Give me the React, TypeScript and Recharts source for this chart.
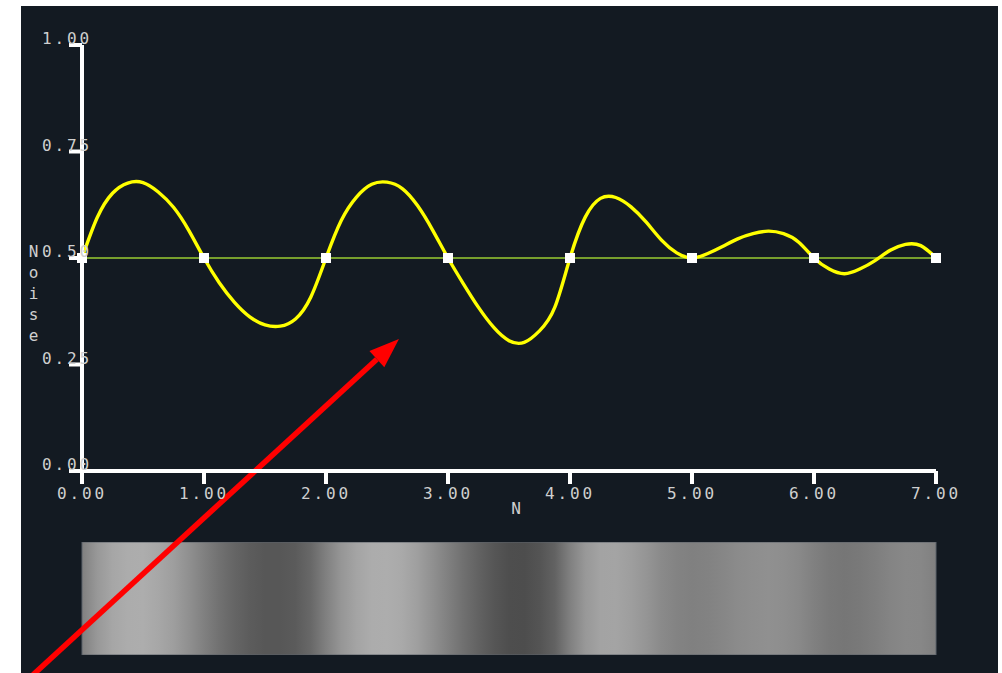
import React from 'react';
import { ComposedChart, Line, XAxis, YAxis, ReferenceLine, ReferenceArea, Label } from 'recharts';

// 1D gradient noise at 1/8 steps
const noiseX = [
  0, 0.125, 0.25, 0.375, 0.5, 0.625, 0.75, 0.875,
  1, 1.125, 1.25, 1.375, 1.5, 1.625, 1.75, 1.875,
  2, 2.125, 2.25, 2.375, 2.5, 2.625, 2.75, 2.875,
  3, 3.125, 3.25, 3.375, 3.5, 3.625, 3.75, 3.875,
  4, 4.125, 4.25, 4.375, 4.5, 4.625, 4.75, 4.875,
  5, 5.125, 5.25, 5.375, 5.5, 5.625, 5.75, 5.875,
  6, 6.125, 6.25, 6.375, 6.5, 6.625, 6.75, 6.875,
  7,
];
const noiseY = [
  0.5, 0.595, 0.652, 0.676, 0.677, 0.655, 0.619, 0.565,
  0.5, 0.442, 0.396, 0.362, 0.343, 0.34, 0.357, 0.408,
  0.5, 0.588, 0.643, 0.673, 0.678, 0.663, 0.623, 0.565,
  0.5, 0.44, 0.384, 0.337, 0.306, 0.302, 0.329, 0.384,
  0.5, 0.596, 0.64, 0.642, 0.62, 0.584, 0.542, 0.512,
  0.5, 0.51, 0.527, 0.545, 0.557, 0.563, 0.557, 0.537,
  0.5, 0.474, 0.463, 0.474, 0.494, 0.518, 0.532, 0.529,
  0.5,
];
const latticeX = [0, 1, 2, 3, 4, 5, 6, 7];
const latticeY = [0.5, 0.5, 0.5, 0.5, 0.5, 0.5, 0.5, 0.5];
const xTicks = [0, 1, 2, 3, 4, 5, 6, 7];
const yTicks = [0, 0.25, 0.5, 0.75, 1];
const arrowFrom = { x: -0.43, y: -0.486 };
const arrowTo = { x: 2.598, y: 0.31 };

const chartData = noiseX.map((x, i) => {
  const k = latticeX.indexOf(x);
  return { x, noise: noiseY[i], base: k >= 0 ? latticeY[k] : null };
});

const toGray = (v: number) => {
  const g = Math.round(v * 255);
  return `rgb(${g},${g},${g})`;
};

const FONT = "'DejaVu Sans Mono', monospace";
const TEXT = '#cfcfcf';

const YTick = ({ x, y, payload }: any) => (
  <text x={x - 27} y={y - 1} fill={TEXT} fontSize={16} letterSpacing={2.9} fontFamily={FONT}>
    {Number(payload.value).toFixed(2)}
  </text>
);

const XTick = ({ x, y, payload }: any) => (
  <text x={x} y={y + 15} textAnchor="middle" fill={TEXT} fontSize={16} letterSpacing={2.9} fontFamily={FONT}>
    {Number(payload.value).toFixed(2)}
  </text>
);

const NoiseLabel = ({ viewBox }: any) => {
  const cx = viewBox.x + viewBox.width - 48.5;
  const top = viewBox.y + viewBox.height / 2 - 1;
  return (
    <text fill={TEXT} fontSize={16} fontFamily={FONT} textAnchor="middle">
      {'Noise'.split('').map((ch, i) => (
        <tspan key={i} x={cx} y={top + i * 21}>{ch}</tspan>
      ))}
    </text>
  );
};

const NLabel = ({ viewBox }: any) => (
  <text x={viewBox.x + viewBox.width / 2 + 7} y={viewBox.y + 43} fill={TEXT} fontSize={16} fontFamily={FONT} textAnchor="middle">
    N
  </text>
);

const SquareDot = (props: any) => {
  const { cx, cy, payload, index } = props;
  if (payload.base == null || cx == null || cy == null) return <g key={`d${index}`} />;
  return <rect key={`d${index}`} x={cx - 5} y={cy - 5} width={10} height={10} fill="#ffffff" />;
};

const Arrow = (p: any) => {
  const { x1, y1, x2, y2 } = p;
  const a = Math.atan2(y2 - y1, x2 - x1);
  const len = 30;
  const half = 11;
  const bx = x2 - len * Math.cos(a);
  const by = y2 - len * Math.sin(a);
  const pts = [
    `${x2},${y2}`,
    `${bx + half * Math.sin(a)},${by - half * Math.cos(a)}`,
    `${bx - half * Math.sin(a)},${by + half * Math.cos(a)}`,
  ].join(' ');
  return (
    <g>
      <line x1={x1} y1={y1} x2={bx} y2={by} stroke="#ff0000" strokeWidth={5.5} />
      <polygon points={pts} fill="#ff0000" />
    </g>
  );
};

export default function App() {
  return (
    <div style={{ position: 'absolute', left: 21, top: 6, width: 977, height: 667, background: '#131a22', overflow: 'hidden' }}>
      <div style={{ position: 'absolute', left: 59, top: 536 }}>
        <ComposedChart width={858} height={113} data={chartData} margin={{ top: 0, right: 2, bottom: 0, left: 2 }}>
          <defs>
            <linearGradient id="noiseGrad" x1="0" y1="0" x2="1" y2="0">
              {noiseX.map((x, i) => (
                <stop key={i} offset={x / 7} stopColor={toGray(noiseY[i])} />
              ))}
            </linearGradient>
          </defs>
          <XAxis dataKey="x" type="number" domain={[0, 7]} hide />
          <YAxis type="number" domain={[0, 1]} hide />
          <Line dataKey="noise" stroke="none" dot={false} activeDot={false} isAnimationActive={false} />
          <ReferenceArea x1={0} x2={7} y1={0} y2={1} fill="url(#noiseGrad)" fillOpacity={1} stroke="#5c636b" strokeWidth={1} ifOverflow="visible" />
        </ComposedChart>
      </div>
      <div style={{ position: 'absolute', left: 0, top: 0 }}>
        <ComposedChart width={977} height={667} data={chartData} margin={{ top: 39, right: 62, bottom: 172, left: 21 }}>
          <XAxis
            dataKey="x"
            type="number"
            domain={[0, 7]}
            ticks={xTicks}
            interval={0}
            axisLine={{ stroke: '#ffffff', strokeWidth: 4 }}
            tickLine={{ stroke: '#ffffff', strokeWidth: 4 }}
            tickSize={13}
            tickMargin={0}
            tick={<XTick />}
            height={30}
          >
            <Label content={<NLabel />} />
          </XAxis>
          <YAxis
            type="number"
            domain={[0, 1]}
            ticks={yTicks}
            interval={0}
            axisLine={{ stroke: '#ffffff', strokeWidth: 4 }}
            tickLine={{ stroke: '#ffffff', strokeWidth: 4 }}
            tickSize={13}
            tickMargin={0}
            tick={<YTick />}
            width={40}
          >
            <Label content={<NoiseLabel />} />
          </YAxis>
          <Line dataKey="base" type="linear" connectNulls stroke="#9acd32" strokeWidth={1.6} dot={false} isAnimationActive={false} />
          <Line dataKey="noise" type="natural" stroke="#ffff00" strokeWidth={3.4} dot={false} isAnimationActive={false} />
          <Line dataKey="base" type="linear" connectNulls stroke="none" dot={SquareDot} activeDot={false} isAnimationActive={false} />
          <ReferenceLine segment={[arrowFrom, arrowTo]} ifOverflow="visible" shape={Arrow} />
        </ComposedChart>
      </div>
    </div>
  );
}
